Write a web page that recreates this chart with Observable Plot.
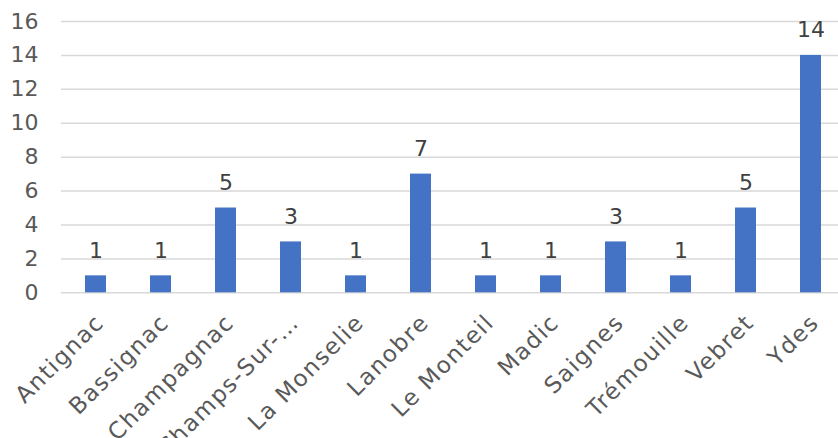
<!DOCTYPE html>
<html>
<head>
<meta charset="utf-8">
<script src="https://cdn.jsdelivr.net/npm/d3@7"></script>
<script src="https://cdn.jsdelivr.net/npm/@observablehq/plot@0.6"></script>
<style>
  html, body { margin: 0; padding: 0; background: #fff; }
  #chart svg { display: block; }
  #chart svg g[aria-label="x-axis tick label"] text { letter-spacing: 1.5px; }
</style>
</head>
<body>
<div id="chart"></div>
<script>
const categories = ["Antignac", "Bassignac", "Champagnac", "Champs-Sur-…", "La Monselie", "Lanobre", "Le Monteil", "Madic", "Saignes", "Trémouille", "Vebret", "Ydes"];
const values = [1, 1, 5, 3, 1, 7, 1, 1, 3, 1, 5, 14];
const yTicks = [0, 2, 4, 6, 8, 10, 12, 14, 16];

const data = categories.map((c, i) => ({category: c, value: values[i]}));

const fontFamily = "'DejaVu Sans', sans-serif";
const textColor = "#595959";

const chart = Plot.plot({
  width: 838,
  height: 438,
  marginTop: 21,
  marginLeft: 61,
  marginRight: 0,
  marginBottom: 145.7,
  style: {fontFamily, fontSize: "22px", color: textColor, background: "#fff"},
  x: {domain: categories, range: [61, 844.6], paddingInner: 0.683, paddingOuter: 0.3415},
  y: {domain: [0, 16]},
  marks: [
    Plot.ruleY(yTicks, {stroke: "#d9d9d9", strokeWidth: 1.5}),
    Plot.barY(data, {x: "category", y: "value", fill: "#4472C4"}),
    Plot.text(data, {x: "category", y: "value", text: d => String(d.value), lineAnchor: "middle", dy: -25, fill: "#404040", fontSize: 22}),
    Plot.axisY(yTicks, {tickSize: 0, tickPadding: 23, label: null, fill: textColor, fontSize: 22}),
    Plot.axisX({tickSize: 0, tickRotate: -45, tickPadding: 26, dx: 4, label: null, fill: textColor, fontSize: 23})
  ]
});
document.getElementById("chart").appendChild(chart);
</script>
</body>
</html>
